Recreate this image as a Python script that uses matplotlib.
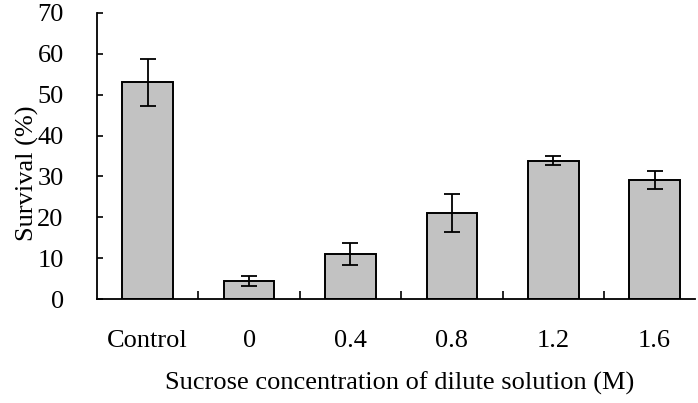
import matplotlib.pyplot as plt
import numpy as np

categorias = ['Control', '0', '0.4', '0.8', '1.2', '1.6']
sobrevivencia = [53.0, 4.4, 11.1, 21.0, 33.8, 29.1]
erro = [5.7, 1.2, 2.7, 4.7, 1.1, 2.1]

plt.rcParams['font.family'] = ['Liberation Serif', 'DejaVu Serif']

fig = plt.figure(figsize=(6.98, 4.03), dpi=100)
ax = fig.add_axes([0.139, 0.258, 0.857, 0.71])

x = np.arange(len(categorias))
ax.bar(x, sobrevivencia, width=0.5, color='#c2c2c2', edgecolor='black', linewidth=1.4)
ax.errorbar(x, sobrevivencia, yerr=erro, fmt='none', ecolor='black',
            elinewidth=1.3, capsize=6, capthick=1.3)

ax.set_xlim(-0.5, 5.4)
ax.set_ylim(0, 70)
ax.set_yticks(np.arange(0, 71, 10))
ax.set_xticks(x)
ax.set_xticklabels(categorias)
ax.set_xticks(x[:-1] + 0.5, minor=True)
ax.tick_params(axis='x', which='major', length=0, pad=22, labelsize=19)
ax.tick_params(axis='x', which='minor', direction='in', length=6, width=1.2)
ax.tick_params(axis='y', direction='in', length=4, width=1.2, pad=24, labelsize=19)

ax.spines['top'].set_visible(False)
ax.spines['right'].set_visible(False)
ax.spines['left'].set_linewidth(1.3)
ax.spines['bottom'].set_linewidth(1.3)

ax.set_xlabel('Sucrose concentration of dilute solution (M)', fontsize=19)
ax.set_ylabel('Survival (%)', fontsize=19)
ax.xaxis.set_label_coords(0.506, -0.255)
ax.yaxis.set_label_coords(-0.097, 0.44)

plt.savefig('out.png', dpi=100)
